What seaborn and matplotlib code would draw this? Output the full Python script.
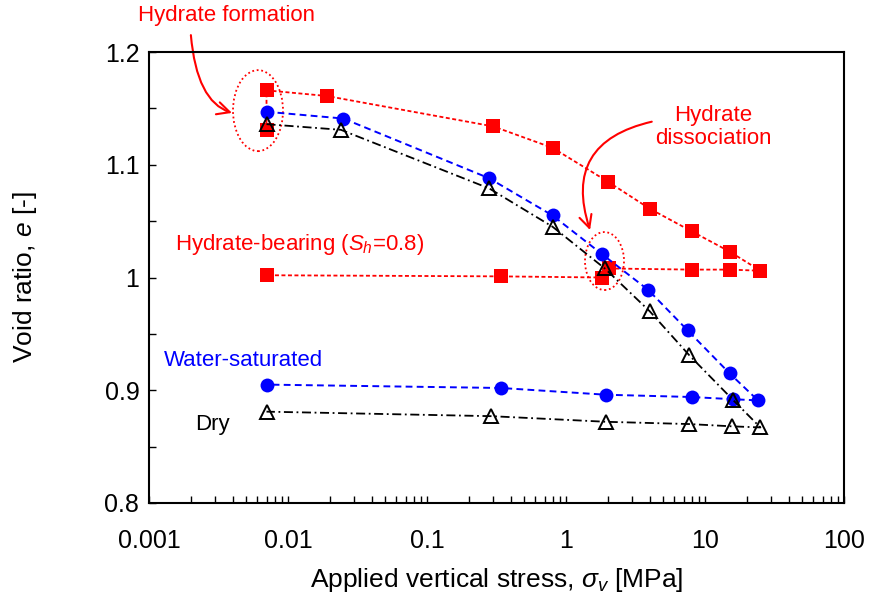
import matplotlib.pyplot as plt
import numpy as np
import seaborn as sns
from matplotlib import transforms
from matplotlib.patches import Ellipse, FancyArrowPatch
from matplotlib.ticker import LogLocator, NullFormatter

sns.set_style('ticks')
plt.rcParams['font.family'] = ['Liberation Sans', 'DejaVu Sans']
plt.rcParams['mathtext.fontset'] = 'custom'
plt.rcParams['mathtext.rm'] = 'Liberation Sans'
plt.rcParams['mathtext.it'] = 'Liberation Sans:italic'
plt.rcParams['text.color'] = 'black'
plt.rcParams['axes.labelcolor'] = 'black'

# hydrate-bearing sample: formation at low stress, loading, unloading
hyd_stress = [0.007, 0.007, 0.019, 0.30, 0.80, 2.0, 4.0, 8.0, 15, 25, 15, 8.0, 2.05, 1.8, 0.34, 0.007]
hyd_e = [1.131, 1.166, 1.161, 1.134, 1.115, 1.085, 1.061, 1.041, 1.023, 1.006,
         1.007, 1.007, 1.008, 1.000, 1.001, 1.002]

# water-saturated sample
wet_stress = [0.007, 0.025, 0.28, 0.80, 1.8, 3.9, 7.5, 15, 24, 16, 8.0, 1.95, 0.34, 0.007]
wet_e = [1.147, 1.141, 1.088, 1.055, 1.021, 0.989, 0.953, 0.915, 0.891,
         0.892, 0.894, 0.896, 0.902, 0.905]

# dry sample
dry_stress = [0.007, 0.024, 0.28, 0.80, 1.9, 4.0, 7.7, 16, 25, 15.5, 7.7, 1.95, 0.29, 0.007]
dry_e = [1.136, 1.131, 1.079, 1.045, 1.008, 0.970, 0.931, 0.891, 0.867,
         0.868, 0.870, 0.872, 0.877, 0.881]

x_ticks = [0.001, 0.01, 0.1, 1, 10, 100]
x_labels = ['0.001', '0.01', '0.1', '1', '10', '100']
y_ticks = [0.8, 0.9, 1.0, 1.1, 1.2]
y_labels = ['0.8', '0.9', '1', '1.1', '1.2']

fig, ax = plt.subplots(figsize=(8.72, 6.0), dpi=100)
fig.subplots_adjust(left=0.1709, right=0.968, bottom=0.1617, top=0.9133)

# red squares, dotted
sns.lineplot(x=hyd_stress, y=hyd_e, sort=False, estimator=None, ax=ax,
             color='#FF0000', lw=1.3, marker='s', markersize=9.5,
             markeredgecolor='#FF0000', markeredgewidth=0)
ax.lines[-1].set_dashes((2.2, 1.4))

# blue circles, dashed
sns.lineplot(x=wet_stress, y=wet_e, sort=False, estimator=None, ax=ax,
             color='#0000FF', lw=1.4, marker='o', markersize=10,
             markeredgecolor='#0000FF', markeredgewidth=0)
ax.lines[-1].set_dashes((3.5, 2.2))

# open triangles, dash-dot
sns.lineplot(x=dry_stress, y=dry_e, sort=False, estimator=None, ax=ax,
             color='black', lw=1.3, marker='^', markersize=9.5,
             markerfacecolor='none', markeredgecolor='black', markeredgewidth=1.4)
ax.lines[-1].set_dashes((5, 2, 1, 2))

ax.set_xscale('log')
ax.set_xlim(0.001, 100)
ax.set_ylim(0.8, 1.2)
ax.set_xticks(x_ticks, labels=x_labels)
ax.xaxis.set_minor_locator(LogLocator(base=10, subs=np.arange(2, 10)))
ax.xaxis.set_minor_formatter(NullFormatter())
ax.set_yticks(y_ticks, labels=y_labels)
ax.set_yticks([0.85, 0.95, 1.05, 1.15], minor=True)
ax.tick_params(axis='both', which='both', direction='in', length=5, width=1,
               colors='black', labelsize=18)
ax.tick_params(axis='x', pad=19)
ax.tick_params(axis='y', pad=7)
for sp in ax.spines.values():
    sp.set_linewidth(1.5)
    sp.set_color('black')

ax.set_xlabel('Applied vertical stress, $\\sigma_v$ [MPa]', fontsize=19, va='center')
ax.set_ylabel('Void ratio, $\\mathit{e}$ [-]', fontsize=19, va='center')
ax.xaxis.set_label_coords(0.5, -0.171)
ax.yaxis.set_label_coords(-0.178, 0.5)

# annotations
ax.text(0.00358, 1.2328, 'Hydrate formation', color='#FF0000', fontsize=16,
        ha='center', va='center', clip_on=False)
ax.text(11.4, 1.1335, 'Hydrate\ndissociation', color='#FF0000', fontsize=16,
        ha='center', va='center', linespacing=1.1)
ax.text(0.00154, 1.0297, 'Hydrate-bearing ($S_h$=0.8)', color='#FF0000', fontsize=16,
        ha='left', va='center')
ax.text(0.00127, 0.9268, 'Water-saturated', color='#0000FF', fontsize=16,
        ha='left', va='center')
ax.text(0.00214, 0.8692, 'Dry', color='black', fontsize=16, ha='left', va='center')


def ring(xc, yc, w_in, h_in):
    tr = fig.dpi_scale_trans + transforms.ScaledTranslation(xc, yc, ax.transData)
    ax.add_patch(Ellipse((0, 0), w_in, h_in, transform=tr, fill=False,
                         edgecolor='#FF0000', lw=1.3, linestyle=(0, (1, 1.5)),
                         clip_on=False))


ring(0.00608, 1.148, 0.50, 0.81)
ring(1.89, 1.0146, 0.39, 0.58)

ax.add_patch(FancyArrowPatch((0.002, 1.215), (0.00395, 1.146),
                             connectionstyle='angle3,angleA=-85,angleB=-18',
                             arrowstyle='->,head_length=0.6,head_width=0.3',
                             mutation_scale=15, color='#FF0000', lw=1.5,
                             shrinkA=0, shrinkB=0, clip_on=False))
ax.add_patch(FancyArrowPatch((4.135, 1.1382), (1.488, 1.0421),
                             connectionstyle='angle3,angleA=13,angleB=108',
                             arrowstyle='->,head_length=0.6,head_width=0.3',
                             mutation_scale=15, color='#FF0000', lw=1.5,
                             shrinkA=0, shrinkB=0, clip_on=False))

fig.savefig('out.png', dpi=100)
